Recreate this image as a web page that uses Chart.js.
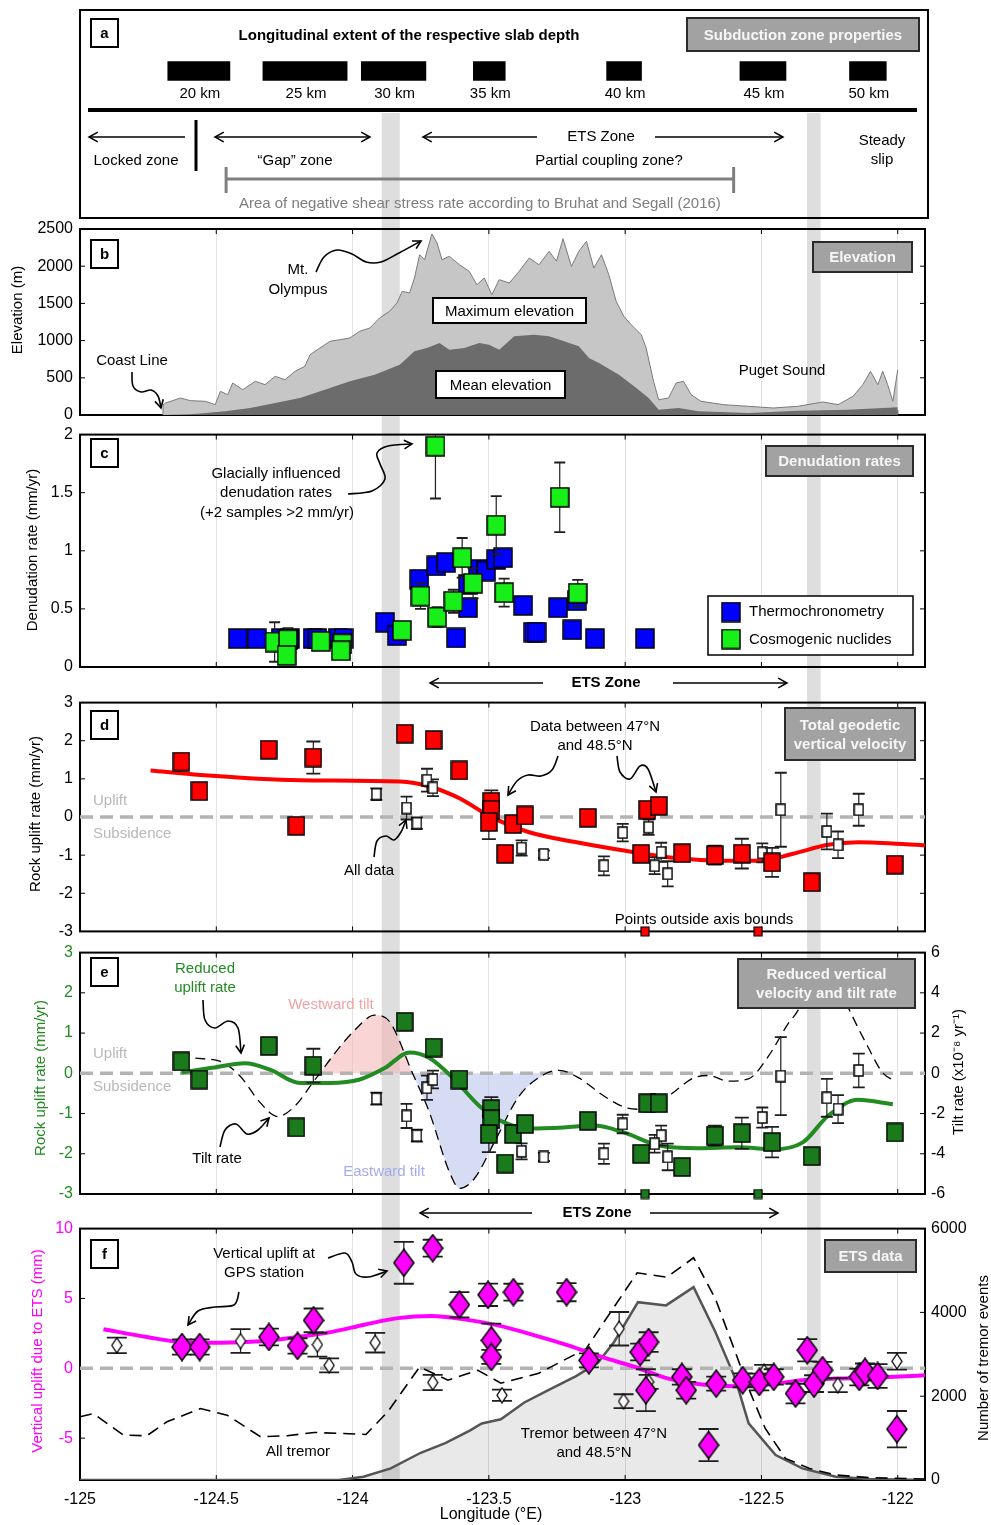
<!DOCTYPE html>
<html>
<head>
<meta charset="utf-8">
<script src="https://cdn.jsdelivr.net/npm/chart.js@4.4.1/dist/chart.umd.min.js"></script>
<style>
  html, body { margin: 0; padding: 0; background: #fff; }
  #fig { position: relative; width: 991px; height: 1525px; overflow: hidden; background: #fff; }
  #fig canvas { position: absolute; left: 0; }
</style>
</head>
<body>
<div id="fig"></div>
<script>
// ---------------- shared longitude axis ----------------
const LON_MIN = -125, LON_MAX = -121.9;
const lonTicks = [-125, -124.5, -124, -123.5, -123, -122.5, -122];
const bandLon = [[-123.893, -123.827], [-122.333, -122.283]];

// ---------------- (a) slab depth extents ----------------
const slabDepthLabels = ['20 km', '25 km', '30 km', '35 km', '40 km', '45 km', '50 km'];
const slabDepthExtent = [[-124.678, -124.450], [-124.329, -124.020], [-123.968, -123.731],
  [-123.557, -123.440], [-123.068, -122.940], [-122.579, -122.410], [-122.177, -122.042]];
const shearStressLon = [-124.464, -122.602];

// ---------------- (b) elevation profile ----------------
const elevTicks = [0, 500, 1000, 1500, 2000, 2500];
const maxElevLon = [-124.696,-124.695,-124.686,-124.632,-124.595,-124.540,-124.504,-124.485,-124.458,-124.440,
  -124.403,-124.357,-124.321,-124.284,-124.248,-124.211,-124.175,-124.156,-124.120,-124.083,
  -124.047,-124.010,-123.974,-123.937,-123.901,-123.864,-123.837,-123.818,-123.791,-123.773,
  -123.754,-123.736,-123.709,-123.690,-123.672,-123.645,-123.608,-123.572,-123.544,-123.517,
  -123.489,-123.462,-123.425,-123.389,-123.352,-123.316,-123.279,-123.252,-123.228,-123.197,
  -123.170,-123.142,-123.115,-123.087,-123.060,-123.033,-123.005,-122.978,-122.941,-122.923,
  -122.896,-122.877,-122.841,-122.813,-122.786,-122.758,-122.722,-122.640,-122.548,-122.457,
  -122.366,-122.274,-122.219,-122.164,-122.128,-122.100,-122.073,-122.055,-122.037,-122.018,-122.000];
const maxElev = [0,139,161,228,193,184,139,318,273,430,
  340,453,408,520,475,587,654,810,900,990,
  1012,1035,1125,1169,1304,1394,1505,1663,1640,1841,
  2154,2087,2433,2312,2087,2133,2020,1931,1751,1841,
  1617,1819,1774,1931,2110,2020,2200,2066,2370,1998,
  2200,2334,1976,2154,1886,1528,1327,1214,1079,900,
  453,206,228,430,453,273,184,139,117,94,
  117,175,139,251,408,587,408,587,408,184,609];
const meanElevLon = [-124.696,-124.6,-124.558,-124.467,-124.376,-124.284,-124.193,-124.102,-124.010,-123.919,
  -123.827,-123.773,-123.727,-123.681,-123.645,-123.590,-123.535,-123.499,-123.462,-123.407,
  -123.334,-123.279,-123.224,-123.170,-123.133,-123.096,-123.023,-122.959,-122.914,-122.877,
  -122.804,-122.731,-122.548,-122.366,-122.183,-122.000];
const meanElev = [0,10,20,50,94,161,228,340,453,542,
  676,856,900,968,878,900,968,945,878,1058,
  1079,1058,990,923,766,699,542,363,228,71,
  94,50,27,58,71,103];

// ---------------- (c) denudation rates ----------------
const denudTicks = [0, 0.5, 1, 1.5, 2];
const thermoLon = [-124.421,-124.352,-124.264,-124.230,-124.147,-124.129,-124.055,-124.033,
  -123.881,-123.837,-123.755,-123.693,-123.657,-123.620,-123.577,-123.577,-123.540,-123.510,
  -123.473,-123.448,-123.374,-123.337,-123.325,-123.246,-123.178,-123.194,-123.111,-122.927];
const thermoRate = [0.245,0.245,0.245,0.245,0.245,0.245,0.245,0.245,
  0.385,0.27,0.755,0.87,0.90,0.25,0.51,0.71,0.84,0.825,
  0.925,0.94,0.53,0.30,0.30,0.51,0.57,0.32,0.245,0.245];
const cosmoLon = [-124.286,-124.237,-124.242,-124.117,-124.037,-124.043,-123.819,-123.696,-123.751,
  -123.690,-123.630,-123.598,-123.558,-123.473,-123.444,-123.240,-123.174];
const cosmoRate = [0.215,0.235,0.10,0.22,0.20,0.14,0.315,1.90,0.61,0.43,0.565,0.94,0.72,1.22,0.64,1.46,0.635];
const cosmoErr = [0.17,0.1,0.05,0.05,0.05,0.04,0.05,0.45,0.11,0.085,0.1,0.17,0.13,0.25,0.12,0.3,0.115];

// ---------------- (d)/(e) geodetic vertical velocities ----------------
const upliftTicks = [-3, -2, -1, 0, 1, 2, 3];
const tiltTicks = [-6, -4, -2, 0, 2, 4, 6];
const gpsLon = [-124.628,-124.562,-124.308,-124.206,-124.144,-123.809,-123.703,-123.608,-123.491,-123.491,
  -123.500,-123.440,-123.411,-123.367,-123.137,-122.941,-122.919,-122.877,-122.791,-122.671,
  -122.572,-122.461,-122.316,-122.011];
const totalRate = [1.455,0.68,1.765,-0.23,1.56,2.185,2.02,1.22,0.40,0.19,
  -0.13,-0.965,-0.185,0.04,-0.02,-0.965,0.19,0.295,-0.95,-1.0,
  -0.96,-1.19,-1.71,-1.25];
const totalErr = [0.1,0.1,0.15,0.1,0.42,0.15,0.12,0.12,0.3,0.15,
  0.45,0.1,0.2,0.15,0.1,0.15,0.15,0.12,0.1,0.25,
  0.39,0.38,0.1,0.15];
const reducedRate = [0.295,-0.155,0.68,-1.345,0.19,1.28,0.64,-0.155,-0.89,-1.14,
  -1.51,-2.245,-1.51,-1.26,-1.18,-2.0,-0.745,-0.745,-2.33,-1.55,
  -1.49,-1.71,-2.06,-1.47];
const outsideLon = [-122.927, -122.512];
const allLon = [-123.913,-123.802,-123.764,-123.727,-123.705,-123.380,-123.298,-123.078,-123.009,-122.914,
  -122.868,-122.892,-122.844,-122.497,-122.429,-122.260,-122.219,-122.143];
const allTotal = [0.60,0.235,-0.16,0.965,0.765,-0.815,-0.98,-1.28,-0.41,-0.27,
  -0.925,-1.28,-1.49,-0.94,0.19,-0.38,-0.73,0.19];
const allErr = [0.15,0.3,0.15,0.3,0.22,0.2,0.1,0.25,0.23,0.2,
  0.25,0.22,0.33,0.25,0.97,0.47,0.35,0.42];
const allReduced = [-0.63,-1.06,-1.55,-0.36,-0.155,-1.94,-2.08,-2.0,-1.26,-0.75,
  -1.55,-1.75,-2.08,-1.10,-0.07,-0.61,-0.89,0.07];
const totalFitLon = [-124.741,-124.558,-124.193,-123.827,-123.718,-123.608,-123.499,-123.352,-123.188,
  -123.005,-122.822,-122.639,-122.512,-122.384,-122.256,-122.146,-121.9];
const totalFit = [1.22,1.10,0.965,0.93,0.80,0.49,0.03,-0.40,-0.65,-0.88,-1.07,-1.15,-1.15,-0.965,-0.73,-0.66,-0.745];
const reducedFitLon = [-124.628,-124.522,-124.394,-124.303,-124.193,-124.083,-123.974,-123.882,-123.791,-123.718,
  -123.626,-123.535,-123.444,-123.352,-123.224,-123.115,-123.005,-122.877,-122.731,-122.585,
  -122.457,-122.347,-122.256,-122.146,-122.018];
const reducedFit = [0.02,0.13,0.25,0.09,-0.24,-0.24,-0.155,0.13,0.52,0.38,
  -0.155,-0.81,-1.22,-1.37,-1.345,-1.30,-1.47,-1.795,-1.86,-1.84,
  -1.89,-1.71,-1.06,-0.66,-0.77];
const tiltLon = [-124.577,-124.485,-124.412,-124.339,-124.275,-124.211,-124.138,-124.120,-124.065,-123.992,
  -123.919,-123.864,-123.780,-123.718,-123.645,-123.608,-123.553,-123.480,-123.389,-123.290,
  -123.243,-123.170,-123.078,-122.996,-122.932,-122.841,-122.749,-122.694,-122.621,-122.548,
  -122.475,-122.402,-122.366,-122.320,-122.270,-122.220,-122.174,-122.110,-122.055,-122.009];
const tiltRate = [0.75,0.59,-0.15,-1.46,-2.15,-1.62,-0.31,0,1.0,2.15,
  2.89,2.56,0,-1.95,-4.9,-5.72,-5.23,-3.43,-1.13,0,
  0.15,-0.23,-1.13,-1.71,-1.79,-1.13,-0.23,-0.11,-0.39,-0.28,
  0.84,2.47,3.13,4.6,5.0,4.4,3.05,1.33,0.02,-0.39];
const westwardTiltLon = [-124.120, -123.780];
const eastwardTiltLon = [-123.780, -123.290];

// ---------------- (f) ETS data ----------------
const etsTicks = [-5, 0, 5, 10];
const tremorTicks = [0, 2000, 4000, 6000];
const etsGpsLon = [-124.626,-124.561,-124.307,-124.202,-124.143,-123.812,-123.706,-123.608,-123.503,-123.491,
  -123.491,-123.410,-123.215,-123.133,-122.945,-122.914,-122.924,-122.792,-122.776,-122.694,
  -122.666,-122.569,-122.508,-122.455,-122.375,-122.332,-122.307,-122.276,-122.141,-122.120,
  -122.074,-122.003];
const etsUplift = [1.52,1.52,2.24,1.6,3.43,7.55,8.6,4.55,5.26,2.0,
  0.81,5.45,5.45,0.57,1.16,1.88,-1.57,-0.62,-1.57,-5.5,
  -1.1,-0.86,-0.98,-0.62,-1.81,1.29,-1.1,-0.14,-0.62,-0.26,
  -0.55,-4.36];
const etsUpliftErr = [0.55,0.55,0.6,0.55,0.85,1.5,0.6,0.9,0.8,1.2,
  0.5,0.6,0.65,0.5,0.6,0.7,1.5,0.55,0.6,1.15,
  0.5,0.5,0.6,0.55,0.7,0.8,0.6,0.6,0.6,0.6,
  0.85,1.3];
const etsAllLon = [-124.865,-124.411,-124.129,-124.086,-123.917,-123.706,-123.452,-123.022,-123.006,-122.914,-122.490,-122.220,-122.003];
const etsAllUplift = [1.64,1.95,1.69,0.21,1.83,-1.02,-1.93,2.83,-2.36,-0.98,-0.26,-1.21,0.5];
const etsAllErr = [0.56,0.85,0.85,0.5,0.7,0.55,0.4,1.2,0.5,0.5,0.5,0.5,0.6];
const etsFitLon = [-124.914,-124.755,-124.632,-124.485,-124.338,-124.202,-124.08,-123.957,-123.834,-123.712,
  -123.59,-123.467,-123.332,-123.209,-123.086,-122.964,-122.841,-122.718,-122.596,-122.473,
  -122.35,-122.227,-122.105,-121.9];
const etsFit = [2.79,2.24,1.88,1.83,1.93,2.24,2.59,3.12,3.59,3.74,
  3.5,3.07,2.36,1.64,0.81,0.09,-0.74,-1.16,-1.29,-1.16,
  -0.86,-0.74,-0.69,-0.5];
const allTremorLon = [-125.0,-124.951,-124.841,-124.755,-124.681,-124.558,-124.46,-124.338,-124.24,-124.141,
  -123.951,-123.871,-123.754,-123.65,-123.54,-123.456,-123.317,-123.143,-123.086,-122.956,
  -122.847,-122.749,-122.669,-122.596,-122.547,-122.486,-122.412,-122.326,-122.227,-122.105,-121.9];
const allTremor = [1508,1587,1071,1055,1389,1706,1548,1032,1055,1135,
  1087,1627,2698,2381,2619,2310,2548,3136,3690,4945,
  4841,5303,4326,3056,2183,1230,516,278,119,56,24];
const tremor47Lon = [-125,-124.05,-123.96,-123.86,-123.75,-123.66,-123.57,-123.526,-123.456,-123.37,
  -123.28,-123.18,-123.10,-123.04,-122.953,-122.85,-122.749,-122.669,-122.596,-122.547,
  -122.448,-122.35,-122.227,-122.105,-121.9];
const tremor47 = [0,0,79,278,650,880,1180,1349,1450,1850,
  2150,2480,2800,3300,4245,4167,4603,3532,2421,1350,
  595,278,79,24,0];

// ---------------- styling ----------------
const FONT = '"Liberation Sans", Arial, Helvetica, sans-serif';
Chart.defaults.font.family = FONT;
Chart.defaults.font.size = 16;
Chart.defaults.color = '#000';
const BAND_COLOR = '#dedede';
const GREEN = '#228b22';
const MAGENTA = '#ff00ff';

// page-level placement of each panel (canvas box and plot box)
const PANELS = {
  a: { top: 0,    height: 226, areaTop: 10,   areaBottom: 218,  slice: [113, 220],  padLeft: 80, padRight: 66 },
  b: { top: 212,  height: 220, areaTop: 229,  areaBottom: 415,  slice: [220, 424],  padRight: 66 },
  c: { top: 418,  height: 280, areaTop: 432,  areaBottom: 667,  slice: [424, 692],  padRight: 66 },
  d: { top: 686,  height: 262, areaTop: 700,  areaBottom: 938,  slice: [692, 944],  padRight: 66 },
  e: { top: 936,  height: 288, areaTop: 950,  areaBottom: 1194, slice: [944, 1221], padRight: 0 },
  f: { top: 1212, height: 313, areaTop: 1228, areaBottom: 1480, slice: [1221, 1480], padRight: 0, xAxisH: 45 }
};

// ---------------- helpers ----------------
function pts(xs, ys) { return xs.map((x, i) => ({ x, y: ys[i] })); }

function markerCanvas(shape, w, h, fill, lw) {
  const c = document.createElement('canvas');
  c.width = w + 2; c.height = h + 2;
  const g = c.getContext('2d');
  g.fillStyle = fill; g.strokeStyle = '#000'; g.lineWidth = lw;
  g.beginPath();
  if (shape === 'rect') g.rect(1, 1, w, h);
  else { g.moveTo(1 + w / 2, 1); g.lineTo(1 + w, 1 + h / 2); g.lineTo(1 + w / 2, 1 + h); g.lineTo(1, 1 + h / 2); g.closePath(); }
  g.fill(); g.stroke();
  return c;
}
const M = {
  blue: markerCanvas('rect', 18, 19, '#0000ff', 1.5),
  lime: markerCanvas('rect', 18, 19, '#18ee18', 1.5),
  red: markerCanvas('rect', 16, 18, '#ff0000', 1.5),
  green: markerCanvas('rect', 16, 18, '#1b7a1b', 1.5),
  white: markerCanvas('rect', 9, 11, '#ffffff', 1.5),
  redSmall: markerCanvas('rect', 8, 9, '#ff0000', 1.2),
  greenSmall: markerCanvas('rect', 8, 9, '#1b7a1b', 1.2),
  magenta: markerCanvas('diamond', 20, 27, MAGENTA, 1.5),
  whiteDia: markerCanvas('diamond', 10, 15, '#ffffff', 1.3)
};

function markers(xs, ys, img, extra) {
  return Object.assign({ type: 'line', data: pts(xs, ys), showLine: false, pointStyle: img,
    pointRadius: 6, pointHoverRadius: 6, borderColor: 'rgba(0,0,0,0)', borderWidth: 0, fill: false, clip: false }, extra);
}
function curve(xs, ys, color, width, extra) {
  return Object.assign({ type: 'line', data: pts(xs, ys), borderColor: color, borderWidth: width,
    pointRadius: 0, cubicInterpolationMode: 'monotone', fill: false }, extra);
}
function zeroLine(order) {
  return { type: 'line', data: pts([LON_MIN, LON_MAX], [0, 0]), borderColor: '#b3b3b3', borderWidth: 3.5,
    borderDash: [13, 7], pointRadius: 0, fill: false, order };
}

function xScale(p, showLabels) {
  return {
    type: 'linear', min: LON_MIN, max: LON_MAX, position: 'bottom',
    afterBuildTicks: s => { s.ticks = lonTicks.map(v => ({ value: v })); },
    afterFit: s => { s.height = p.xAxisH || 0; },
    grid: { color: c => (c.tick && c.tick.value === LON_MIN) ? 'rgba(0,0,0,0)' : '#e2e2e2', lineWidth: 1, drawTicks: false },
    border: { display: false },
    ticks: { display: !!showLabels, padding: 10, autoSkip: false, maxRotation: 0, callback: v => String(v) }
  };
}
function yScale(min, max, ticks, color, position) {
  const right = position === 'right';
  return {
    type: 'linear', min, max, position: position || 'left',
    afterBuildTicks: s => { s.ticks = ticks.map(v => ({ value: v })); },
    afterFit: s => { s.width = right ? 66 : 80; },
    grid: { display: false, drawTicks: false },
    border: { display: false },
    ticks: { padding: right ? 6 : 7, autoSkip: false, color: color || '#000', callback: v => String(v) }
  };
}
function chartOptions(p, scales, extra) {
  return Object.assign({
    responsive: false, animation: false, events: [],
    layout: { padding: { top: p.areaTop - p.top, bottom: p.top + p.height - p.areaBottom - (p.xAxisH || 0),
      left: p.padLeft || 0, right: p.padRight || 0 } },
    plugins: { legend: { display: false }, tooltip: { enabled: false } },
    scales
  }, extra || {});
}

// ---- drawing primitives (page coordinates) ----
function txt(ctx, s, x, y, o) {
  o = o || {};
  ctx.font = (o.bold ? 'bold ' : '') + (o.size || 15) + 'px ' + FONT;
  ctx.fillStyle = o.color || '#000';
  ctx.textAlign = o.align || 'center';
  ctx.textBaseline = 'middle';
  ctx.fillText(s, x, y);
}
function vtxt(ctx, s, x, y, color) {
  ctx.save(); ctx.translate(x, y); ctx.rotate(-Math.PI / 2);
  txt(ctx, s, 0, 0, { color }); ctx.restore();
}
function line(ctx, x1, y1, x2, y2, w, color) {
  ctx.lineWidth = w; ctx.strokeStyle = color || '#000';
  ctx.beginPath(); ctx.moveTo(x1, y1); ctx.lineTo(x2, y2); ctx.stroke();
}
function head(ctx, from, to, size) {
  const a = Math.atan2(to[1] - from[1], to[0] - from[0]), s = size || 9;
  ctx.beginPath();
  ctx.moveTo(to[0] - s * Math.cos(a - 0.5), to[1] - s * Math.sin(a - 0.5));
  ctx.lineTo(to[0], to[1]);
  ctx.lineTo(to[0] - s * Math.cos(a + 0.5), to[1] - s * Math.sin(a + 0.5));
  ctx.stroke();
}
function hArrow(ctx, xTail, xHead, y) {
  line(ctx, xTail, y, xHead, y, 1.5);
  head(ctx, [xTail, y], [xHead, y], 10);
}
function curly(ctx, p) {
  ctx.lineWidth = 1.6; ctx.strokeStyle = '#000';
  ctx.beginPath(); ctx.moveTo(p[0][0], p[0][1]);
  for (let i = 0; i < p.length - 1; i++) {
    const p0 = p[Math.max(i - 1, 0)], p1 = p[i], p2 = p[i + 1], p3 = p[Math.min(i + 2, p.length - 1)];
    ctx.bezierCurveTo(p1[0] + (p2[0] - p0[0]) / 6, p1[1] + (p2[1] - p0[1]) / 6,
      p2[0] - (p3[0] - p1[0]) / 6, p2[1] - (p3[1] - p1[1]) / 6, p2[0], p2[1]);
  }
  ctx.stroke();
  head(ctx, p[p.length - 2], p[p.length - 1], 9);
}
function letterBox(ctx, s, x, y) {
  ctx.fillStyle = '#fff'; ctx.fillRect(x, y, 27, 28);
  ctx.lineWidth = 2; ctx.strokeStyle = '#000'; ctx.strokeRect(x, y, 27, 28);
  txt(ctx, s, x + 13.5, y + 14.5, { bold: true });
}
function grayLabel(ctx, x1, y1, x2, y2, lines) {
  ctx.fillStyle = '#a2a2a2'; ctx.fillRect(x1, y1, x2 - x1, y2 - y1);
  ctx.lineWidth = 2; ctx.strokeStyle = '#2a2a2a'; ctx.strokeRect(x1, y1, x2 - x1, y2 - y1);
  const cx = (x1 + x2) / 2, cy = (y1 + y2) / 2;
  lines.forEach((s, i) => txt(ctx, s, cx, cy + 1 + (i - (lines.length - 1) / 2) * 19, { bold: true, color: '#f6f6f6' }));
}
function whiteBox(ctx, x1, y1, x2, y2, s) {
  ctx.fillStyle = '#fff'; ctx.fillRect(x1, y1, x2 - x1, y2 - y1);
  ctx.lineWidth = 2; ctx.strokeStyle = '#000'; ctx.strokeRect(x1, y1, x2 - x1, y2 - y1);
  txt(ctx, s, (x1 + x2) / 2, (y1 + y2) / 2 + 1);
}
function etsRow(ctx, y, x1, x2, x3, x4, tx) {
  hArrow(ctx, x2, x1, y);
  hArrow(ctx, x3, x4, y);
  txt(ctx, 'ETS Zone', tx, y, { bold: true });
}

// ---- chart-level drawing ----
function drawFrame(chart) {
  const { ctx, chartArea: a, scales } = chart;
  ctx.save(); ctx.strokeStyle = '#000'; ctx.lineWidth = 1;
  ctx.beginPath();
  lonTicks.forEach(v => {
    if (v === LON_MIN) return;
    const x = scales.x.getPixelForValue(v);
    ctx.moveTo(x, a.bottom); ctx.lineTo(x, a.bottom - 5);
    ctx.moveTo(x, a.top); ctx.lineTo(x, a.top + 5);
  });
  const left = scales.y, right = scales.y2 || scales.y;
  left.ticks.forEach(t => { const y = left.getPixelForValue(t.value); ctx.moveTo(a.left, y); ctx.lineTo(a.left + 5, y); });
  right.ticks.forEach(t => { const y = right.getPixelForValue(t.value); ctx.moveTo(a.right, y); ctx.lineTo(a.right - 5, y); });
  ctx.stroke();
  ctx.lineWidth = 2;
  ctx.strokeRect(a.left, a.top, a.right - a.left, a.bottom - a.top);
  ctx.restore();
}
function drawErrorBars(chart, args) {
  const ds = chart.data.datasets[args.index];
  if (!ds.errorBars) return;
  const meta = args.meta, ys = chart.scales[meta.yAxisID], a = chart.chartArea, ctx = chart.ctx;
  const cap = (ds.capWidth || 12) / 2;
  ctx.save();
  ctx.beginPath(); ctx.rect(a.left, a.top, a.right - a.left, a.bottom - a.top); ctx.clip();
  ctx.strokeStyle = '#1e1e1e';
  meta.data.forEach((pt, i) => {
    const v = ds.data[i].y, e = ds.errorBars[i];
    if (!e) return;
    const yHi = ys.getPixelForValue(v + e), yLo = ys.getPixelForValue(v - e), x = pt.x;
    ctx.lineWidth = 1.2;
    ctx.beginPath(); ctx.moveTo(x, yHi); ctx.lineTo(x, yLo); ctx.stroke();
    ctx.lineWidth = 1.8;
    ctx.beginPath();
    ctx.moveTo(x - cap, yHi); ctx.lineTo(x + cap, yHi);
    ctx.moveTo(x - cap, yLo); ctx.lineTo(x + cap, yLo);
    ctx.stroke();
  });
  ctx.restore();
}
function panelPlugin(p, decorate, withFrame) {
  return {
    id: 'panelDecor',
    beforeDraw(chart) {
      const ctx = chart.ctx, xs = chart.scales.x;
      ctx.save(); ctx.fillStyle = BAND_COLOR;
      const y0 = p.slice[0] - p.top, y1 = p.slice[1] - p.top;
      bandLon.forEach(([lo, hi]) => {
        const x0 = xs.getPixelForValue(lo), x1 = xs.getPixelForValue(hi);
        ctx.fillRect(x0, y0, x1 - x0, y1 - y0);
      });
      ctx.restore();
    },
    beforeDatasetsDraw(chart) { if (withFrame) drawFrame(chart); },
    beforeDatasetDraw(chart, args) { drawErrorBars(chart, args); },
    afterDatasetsDraw(chart) {
      const ctx = chart.ctx;
      ctx.save(); ctx.translate(0, -p.top);
      decorate(ctx, chart);
      ctx.restore();
    }
  };
}
function makeCanvas(p) {
  const c = document.createElement('canvas');
  c.width = 991; c.height = p.height;
  c.style.top = p.top + 'px'; c.style.width = '991px'; c.style.height = p.height + 'px';
  document.getElementById('fig').appendChild(c);
  return c;
}

// =============== (a) subduction zone properties ===============
(function () {
  const p = PANELS.a;
  new Chart(makeCanvas(p), {
    type: 'bar',
    data: { datasets: [{
      data: slabDepthExtent.map(r => ({ x: r, y: 61 })),
      backgroundColor: '#000', borderWidth: 0, barThickness: 19
    }] },
    options: chartOptions(p, {
      x: { type: 'linear', min: LON_MIN, max: LON_MAX, display: false },
      y: { type: 'linear', min: 0, max: 208, reverse: true, offset: false, display: false }
    }, { indexAxis: 'y' }),
    plugins: [panelPlugin(p, (ctx, chart) => {
      const X = v => chart.scales.x.getPixelForValue(v);
      ctx.lineWidth = 2; ctx.strokeStyle = '#000'; ctx.strokeRect(80, 10, 848, 208);
      letterBox(ctx, 'a', 91, 19);
      txt(ctx, 'Longitudinal extent of the respective slab depth', 409, 36, { bold: true });
      grayLabel(ctx, 687, 18, 919, 51, ['Subduction zone properties']);
      chart.getDatasetMeta(0).data.forEach((bar, i) => txt(ctx, slabDepthLabels[i], (bar.x + bar.base) / 2 + 1, 94));
      line(ctx, 88, 110, 917, 110, 4);
      // zone arrows
      hArrow(ctx, 185, 89, 137);
      line(ctx, 196, 120, 196, 171, 3);
      hArrow(ctx, 292, 215, 137); hArrow(ctx, 292, 370, 137);
      hArrow(ctx, 537, 423, 137); hArrow(ctx, 655, 783, 137);
      txt(ctx, 'ETS Zone', 601, 137);
      txt(ctx, 'Locked zone', 136, 161);
      txt(ctx, '\u201cGap\u201d zone', 295, 161);
      txt(ctx, 'Partial coupling zone?', 609, 161);
      txt(ctx, 'Steady', 882, 141);
      txt(ctx, 'slip', 882, 160);
      // negative shear stress rate bracket
      const bx0 = X(shearStressLon[0]), bx1 = X(shearStressLon[1]);
      line(ctx, bx0, 179, bx1, 179, 3, '#808080');
      line(ctx, bx0, 167, bx0, 193, 3, '#808080');
      line(ctx, bx1, 167, bx1, 193, 3, '#808080');
      txt(ctx, 'Area of negative shear stress rate according to Bruhat and Segall (2016)', (bx0 + bx1) / 2, 204, { color: '#7d7d7d' });
    }, false)]
  });
})();

// =============== (b) elevation ===============
(function () {
  const p = PANELS.b;
  new Chart(makeCanvas(p), {
    type: 'line',
    data: { datasets: [
      { data: pts(meanElevLon, meanElev), borderColor: 'rgba(0,0,0,0)', borderWidth: 0, backgroundColor: '#6c6c6c',
        fill: 'origin', pointRadius: 0, order: 1 },
      { data: pts(maxElevLon, maxElev), borderColor: '#7a7a7a', borderWidth: 1, backgroundColor: '#c6c6c6',
        fill: 'origin', pointRadius: 0, order: 2 }
    ] },
    options: chartOptions(p, { x: xScale(p, false), y: yScale(0, 2500, elevTicks) }),
    plugins: [panelPlugin(p, (ctx) => {
      vtxt(ctx, 'Elevation (m)', 18, 310);
      letterBox(ctx, 'b', 91, 240);
      grayLabel(ctx, 813, 242, 912, 272, ['Elevation']);
      txt(ctx, 'Mt.', 298, 270); txt(ctx, 'Olympus', 298, 290);
      curly(ctx, [[316, 272], [324, 257], [337, 250], [352, 254], [366, 262], [381, 262], [399, 253], [421, 241]]);
      whiteBox(ctx, 433, 298, 586, 323, 'Maximum elevation');
      whiteBox(ctx, 436, 371, 565, 398, 'Mean elevation');
      txt(ctx, 'Coast Line', 132, 361);
      curly(ctx, [[132, 372], [133, 386], [141, 392], [151, 390], [158, 396], [161, 408]]);
      txt(ctx, 'Puget Sound', 782, 371);
    }, true)]
  });
})();

// =============== (c) denudation rates ===============
(function () {
  const p = PANELS.c;
  new Chart(makeCanvas(p), {
    type: 'line',
    data: { datasets: [
      markers(thermoLon, thermoRate, M.blue, { order: 2 }),
      markers(cosmoLon, cosmoRate, M.lime, { order: 1, errorBars: cosmoErr, capWidth: 11 })
    ] },
    options: chartOptions(p, { x: xScale(p, false), y: yScale(0, 2, denudTicks) }),
    plugins: [panelPlugin(p, (ctx) => {
      vtxt(ctx, 'Denudation rate (mm/yr)', 33, 550);
      letterBox(ctx, 'c', 91, 439);
      grayLabel(ctx, 766, 446, 913, 476, ['Denudation rates']);
      txt(ctx, 'Glacially influenced', 276, 474);
      txt(ctx, 'denudation rates', 276, 493);
      txt(ctx, '(+2 samples >2 mm/yr)', 277, 513);
      curly(ctx, [[348, 494], [372, 491], [385, 479], [380, 464], [377, 453], [388, 446], [412, 444]]);
      // legend
      ctx.fillStyle = '#fff'; ctx.fillRect(708, 596, 205, 59);
      ctx.lineWidth = 1.5; ctx.strokeStyle = '#000'; ctx.strokeRect(708, 596, 205, 59);
      ctx.drawImage(M.blue, 731 - M.blue.width / 2, 612 - M.blue.height / 2);
      ctx.drawImage(M.lime, 731 - M.lime.width / 2, 639 - M.lime.height / 2);
      txt(ctx, 'Thermochronometry', 749, 612, { align: 'left' });
      txt(ctx, 'Cosmogenic nuclides', 749, 640, { align: 'left' });
      etsRow(ctx, 683, 430, 543, 673, 787, 606);
    }, true)]
  });
})();

// =============== (d) total geodetic vertical velocity ===============
(function () {
  const p = PANELS.d;
  new Chart(makeCanvas(p), {
    type: 'line',
    data: { datasets: [
      zeroLine(9),
      curve(totalFitLon, totalFit, '#ff0000', 4, { order: 8 }),
      markers(allLon, allTotal, M.white, { order: 7, errorBars: allErr, capWidth: 12 }),
      markers(gpsLon, totalRate, M.red, { order: 6, errorBars: totalErr, capWidth: 14 }),
      markers(outsideLon, outsideLon.map(() => -3), M.redSmall, { order: 5 })
    ] },
    options: chartOptions(p, { x: xScale(p, false), y: yScale(-3, 3, upliftTicks) }),
    plugins: [panelPlugin(p, (ctx) => {
      vtxt(ctx, 'Rock uplift rate (mm/yr)', 36, 814);
      letterBox(ctx, 'd', 91, 711);
      grayLabel(ctx, 785, 708, 915, 760, ['Total geodetic', 'vertical velocity']);
      txt(ctx, 'Uplift', 93, 801, { align: 'left', color: '#b8b8b8' });
      txt(ctx, 'Subsidence', 93, 834, { align: 'left', color: '#b8b8b8' });
      txt(ctx, 'Data between 47\u00b0N', 595, 727);
      txt(ctx, 'and 48.5\u00b0N', 595, 746);
      curly(ctx, [[558, 756], [552, 770], [541, 776], [528, 775], [517, 781], [508, 795]]);
      curly(ctx, [[617, 756], [620, 772], [630, 779], [640, 766], [648, 769], [656, 792]]);
      txt(ctx, 'All data', 369, 871);
      curly(ctx, [[374, 857], [377, 841], [386, 836], [394, 840], [401, 832], [406, 820]]);
      txt(ctx, 'Points outside axis bounds', 704, 920);
    }, true)]
  });
})();

// =============== (e) reduced vertical velocity and tilt rate ===============
(function () {
  const p = PANELS.e;
  const tiltPts = pts(tiltLon, tiltRate);
  const westward = tiltPts.filter(q => q.x >= westwardTiltLon[0] && q.x <= westwardTiltLon[1]);
  const eastward = tiltPts.filter(q => q.x >= eastwardTiltLon[0] && q.x <= eastwardTiltLon[1]);
  new Chart(makeCanvas(p), {
    type: 'line',
    data: { datasets: [
      { data: westward, yAxisID: 'y2', borderColor: 'rgba(0,0,0,0)', borderWidth: 0, pointRadius: 0,
        cubicInterpolationMode: 'monotone', fill: 'origin', backgroundColor: 'rgba(246,178,178,0.55)', order: 11 },
      { data: eastward, yAxisID: 'y2', borderColor: 'rgba(0,0,0,0)', borderWidth: 0, pointRadius: 0,
        cubicInterpolationMode: 'monotone', fill: 'origin', backgroundColor: 'rgba(176,186,236,0.5)', order: 10 },
      zeroLine(9),
      curve(tiltLon, tiltRate, '#000', 1.3, { yAxisID: 'y2', borderDash: [10, 6], order: 8 }),
      curve(reducedFitLon, reducedFit, GREEN, 4, { order: 7 }),
      markers(allLon, allReduced, M.white, { order: 6, errorBars: allErr, capWidth: 12 }),
      markers(gpsLon, reducedRate, M.green, { order: 5, errorBars: totalErr, capWidth: 14 }),
      markers(outsideLon, outsideLon.map(() => -3), M.greenSmall, { order: 4 })
    ] },
    options: chartOptions(p, {
      x: xScale(p, false),
      y: yScale(-3, 3, upliftTicks, GREEN),
      y2: yScale(-6, 6, tiltTicks, '#000', 'right')
    }),
    plugins: [panelPlugin(p, (ctx) => {
      vtxt(ctx, 'Rock uplift rate (mm/yr)', 41, 1078, GREEN);
      vtxt(ctx, 'Tilt rate (x10\u207b\u2078 yr\u207b\u00b9)', 959, 1072, '#000');
      letterBox(ctx, 'e', 91, 958);
      grayLabel(ctx, 738, 959, 915, 1008, ['Reduced vertical', 'velocity and tilt rate']);
      txt(ctx, 'Uplift', 93, 1054, { align: 'left', color: '#b8b8b8' });
      txt(ctx, 'Subsidence', 93, 1087, { align: 'left', color: '#b8b8b8' });
      txt(ctx, 'Reduced', 205, 969, { color: GREEN });
      txt(ctx, 'uplift rate', 205, 988, { color: GREEN });
      curly(ctx, [[203, 1000], [205, 1020], [215, 1028], [228, 1021], [238, 1028], [241, 1053]]);
      txt(ctx, 'Westward tilt', 331, 1005, { color: '#f1a3a3' });
      txt(ctx, 'Eastward tilt', 384, 1172, { color: '#a3acea' });
      txt(ctx, 'Tilt rate', 217, 1159);
      curly(ctx, [[220, 1147], [225, 1130], [236, 1124], [247, 1134], [258, 1130], [269, 1118]]);
      etsRow(ctx, 1213, 420, 532, 650, 778, 597);
    }, true)]
  });
})();

// =============== (f) ETS data ===============
(function () {
  const p = PANELS.f;
  new Chart(makeCanvas(p), {
    type: 'line',
    data: { datasets: [
      { data: pts(tremor47Lon, tremor47), yAxisID: 'y2', borderColor: '#555555', borderWidth: 2.5, pointRadius: 0,
        fill: 'origin', backgroundColor: 'rgba(0,0,0,0.085)', order: 10 },
      zeroLine(9),
      { data: pts(allTremorLon, allTremor), yAxisID: 'y2', borderColor: '#000', borderWidth: 1.6, borderDash: [12, 7],
        pointRadius: 0, fill: false, order: 8 },
      curve(etsFitLon, etsFit, MAGENTA, 4, { order: 7 }),
      markers(etsAllLon, etsAllUplift, M.whiteDia, { order: 6, errorBars: etsAllErr, capWidth: 20 }),
      markers(etsGpsLon, etsUplift, M.magenta, { order: 5, errorBars: etsUpliftErr, capWidth: 20 })
    ] },
    options: chartOptions(p, {
      x: xScale(p, true),
      y: yScale(-8, 10, etsTicks, MAGENTA),
      y2: yScale(0, 6000, tremorTicks, '#000', 'right')
    }),
    plugins: [panelPlugin(p, (ctx) => {
      vtxt(ctx, 'Vertical uplift due to ETS (mm)', 38, 1351, MAGENTA);
      vtxt(ctx, 'Number of tremor events', 984, 1358, '#000');
      txt(ctx, 'Longitude (\u00b0E)', 491, 1515, { size: 16 });
      letterBox(ctx, 'f', 91, 1240);
      grayLabel(ctx, 825, 1240, 916, 1272, ['ETS data']);
      txt(ctx, 'Vertical uplift at', 264, 1254);
      txt(ctx, 'GPS station', 264, 1273);
      curly(ctx, [[328, 1258], [345, 1253], [352, 1262], [356, 1274], [368, 1277], [387, 1271]]);
      curly(ctx, [[239, 1292], [234, 1305], [215, 1307], [198, 1311], [188, 1325]]);
      txt(ctx, 'All tremor', 298, 1452);
      txt(ctx, 'Tremor between 47\u00b0N', 594, 1434);
      txt(ctx, 'and 48.5\u00b0N', 594, 1453);
    }, true)]
  });
})();
</script>
</body>
</html>
